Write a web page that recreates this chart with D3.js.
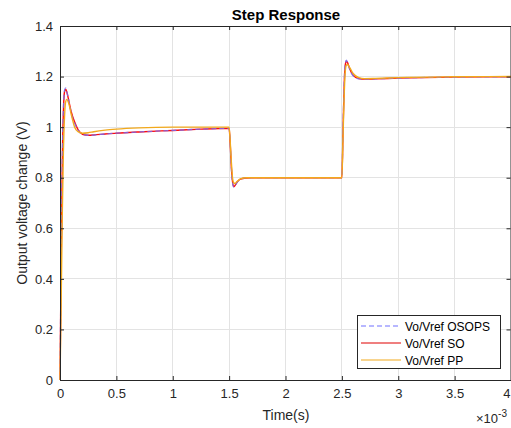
<!DOCTYPE html>
<html><head><meta charset="utf-8">
<script src="https://cdn.jsdelivr.net/npm/d3@7"></script>
<style>body{margin:0;background:#fff;} svg{display:block;font-family:"Liberation Sans",Arial,sans-serif;}</style>
</head><body>
<svg id="c" width="511" height="428"></svg>
<script>
// time in ms (axis shown with ×10^-3 multiplier)
const timeMs = [0,0.01,0.02,0.03,0.04,0.05,0.06,0.08,0.10,0.13,0.16,0.20,0.25,0.30,0.40,0.50,0.70,1.0,1.25,1.5,
  1.51,1.52,1.53,1.54,1.55,1.57,1.60,1.65,1.70,1.80,2.0,2.5,
  2.51,2.52,2.53,2.54,2.55,2.57,2.60,2.65,2.70,2.80,3.0,3.5,4.0];
const so = [0,0.45,0.85,1.06,1.14,1.15,1.14,1.10,1.06,1.02,0.99,0.972,0.968,0.969,0.973,0.976,0.981,0.987,0.992,0.995,
  0.93,0.84,0.785,0.765,0.768,0.782,0.794,0.799,0.800,0.800,0.800,0.800,
  0.98,1.16,1.245,1.262,1.255,1.23,1.205,1.192,1.190,1.191,1.194,1.198,1.199];
const osops = [0,0.46,0.86,1.07,1.145,1.155,1.14,1.10,1.055,1.015,0.988,0.971,0.968,0.969,0.973,0.976,0.981,0.987,0.992,0.995,
  0.93,0.835,0.78,0.763,0.767,0.781,0.794,0.799,0.800,0.800,0.800,0.800,
  0.99,1.17,1.25,1.265,1.255,1.228,1.203,1.191,1.190,1.191,1.194,1.198,1.199];
const pp = [0,0.30,0.65,0.90,1.04,1.10,1.11,1.09,1.05,1.00,0.982,0.976,0.978,0.982,0.988,0.992,0.997,1.0,1.0,1.0,
  0.94,0.86,0.80,0.78,0.777,0.785,0.795,0.80,0.80,0.80,0.80,0.80,
  0.96,1.12,1.22,1.245,1.248,1.235,1.212,1.196,1.192,1.193,1.196,1.199,1.2];
const xTicks = [0,0.5,1,1.5,2,2.5,3,3.5,4];
const yTicks = [0,0.2,0.4,0.6,0.8,1,1.2,1.4];
const seriesNames = ["Vo/Vref OSOPS","Vo/Vref SO","Vo/Vref PP"];

const svg = d3.select("#c");
const L=60,R=511,T=26,B=380;
const x = d3.scaleLinear().domain([0,4]).range([L,R]);
const y = d3.scaleLinear().domain([0,1.4]).range([B,T]);

// grid
svg.append("g").selectAll("line").data(xTicks).join("line")
  .attr("x1",d=>x(d)).attr("x2",d=>x(d)).attr("y1",T).attr("y2",B)
  .attr("stroke","#e3e3e3").attr("stroke-width",1).attr("shape-rendering","crispEdges");
svg.append("g").selectAll("line").data(yTicks).join("line")
  .attr("x1",L).attr("x2",R).attr("y1",d=>y(d)).attr("y2",d=>y(d))
  .attr("stroke","#e3e3e3").attr("stroke-width",1).attr("shape-rendering","crispEdges");

const data = timeMs.map((t,i)=>({t,so:so[i],osops:osops[i],pp:pp[i]}));
const mk = key => d3.line().x(d=>x(d.t)).y(d=>y(d[key])).curve(d3.curveMonotoneX);
svg.append("path").datum(data).attr("d",mk("so")).attr("fill","none").attr("stroke","#ff0d0d").attr("stroke-width",1.4);
svg.append("path").datum(data).attr("d",mk("osops")).attr("fill","none").attr("stroke","#7070ff").attr("stroke-width",1.3).attr("stroke-dasharray","5,3").attr("opacity",0.8);
svg.append("path").datum(data).attr("d",mk("pp")).attr("fill","none").attr("stroke","#f2a91c").attr("stroke-width",1.4);

// axes
const ax = svg.append("g").attr("transform",`translate(0,${B})`)
  .call(d3.axisBottom(x).tickValues(xTicks).tickSize(-4).tickPadding(9).tickFormat(d3.format("")));
ax.selectAll(".tick text").filter(d=>d===4).attr("text-anchor","end").attr("x",-1);
const ay = svg.append("g").attr("transform",`translate(${L},0)`)
  .call(d3.axisLeft(y).tickValues(yTicks).tickSize(-4).tickPadding(7).tickFormat(d=>d3.format("")(+d.toFixed(1))));
const axT = svg.append("g").attr("transform",`translate(0,${T})`)
  .call(d3.axisTop(x).tickValues(xTicks).tickSize(-4).tickFormat(""));
const ayR = svg.append("g").attr("transform",`translate(${R-0.5},0)`)
  .call(d3.axisRight(y).tickValues(yTicks).tickSize(-4).tickFormat(""));
[ax,ay,axT,ayR].forEach(g=>{
  g.selectAll("path").attr("stroke","#262626");
  g.selectAll("line").attr("stroke","#262626");
  g.selectAll("text").attr("fill","#262626").attr("font-size","13px").attr("font-family","Liberation Sans,Arial,sans-serif");
});

// title & labels
svg.append("text").attr("x",286).attr("y",20).attr("text-anchor","middle")
  .attr("font-weight","bold").attr("font-size","15px").attr("fill","#000").text("Step Response");
svg.append("text").attr("x",286).attr("y",420).attr("text-anchor","middle")
  .attr("font-size","14px").attr("fill","#262626").text("Time(s)");
svg.append("text").attr("transform","translate(27,203) rotate(-90)").attr("text-anchor","middle")
  .attr("font-size","14px").attr("fill","#262626").text("Output voltage change (V)");
const ex = svg.append("text").attr("x",476).attr("y",423).attr("font-size","13px").attr("fill","#262626");
ex.append("tspan").text("×10");
ex.append("tspan").attr("dy",-6).attr("font-size","10px").text("-3");

// legend
const lg = svg.append("g");
lg.append("rect").attr("x",357.5).attr("y",315.5).attr("width",143).attr("height",53)
  .attr("fill","#fff").attr("stroke","#262626").attr("stroke-width",1);
const lstyles=[{c:"#7070ff",d:"5,3"},{c:"#e00000",d:null},{c:"#f2a91c",d:null}];
seriesNames.forEach((n,i)=>{
  const yy = 326 + i*17;
  lg.append("line").attr("x1",361).attr("x2",401).attr("y1",yy).attr("y2",yy)
    .attr("stroke",lstyles[i].c).attr("stroke-width",1.1).attr("stroke-dasharray",lstyles[i].d);
  lg.append("text").attr("x",405).attr("y",yy+4.5).attr("font-size","12px").attr("fill","#000").text(n);
});
</script>
</body></html>
